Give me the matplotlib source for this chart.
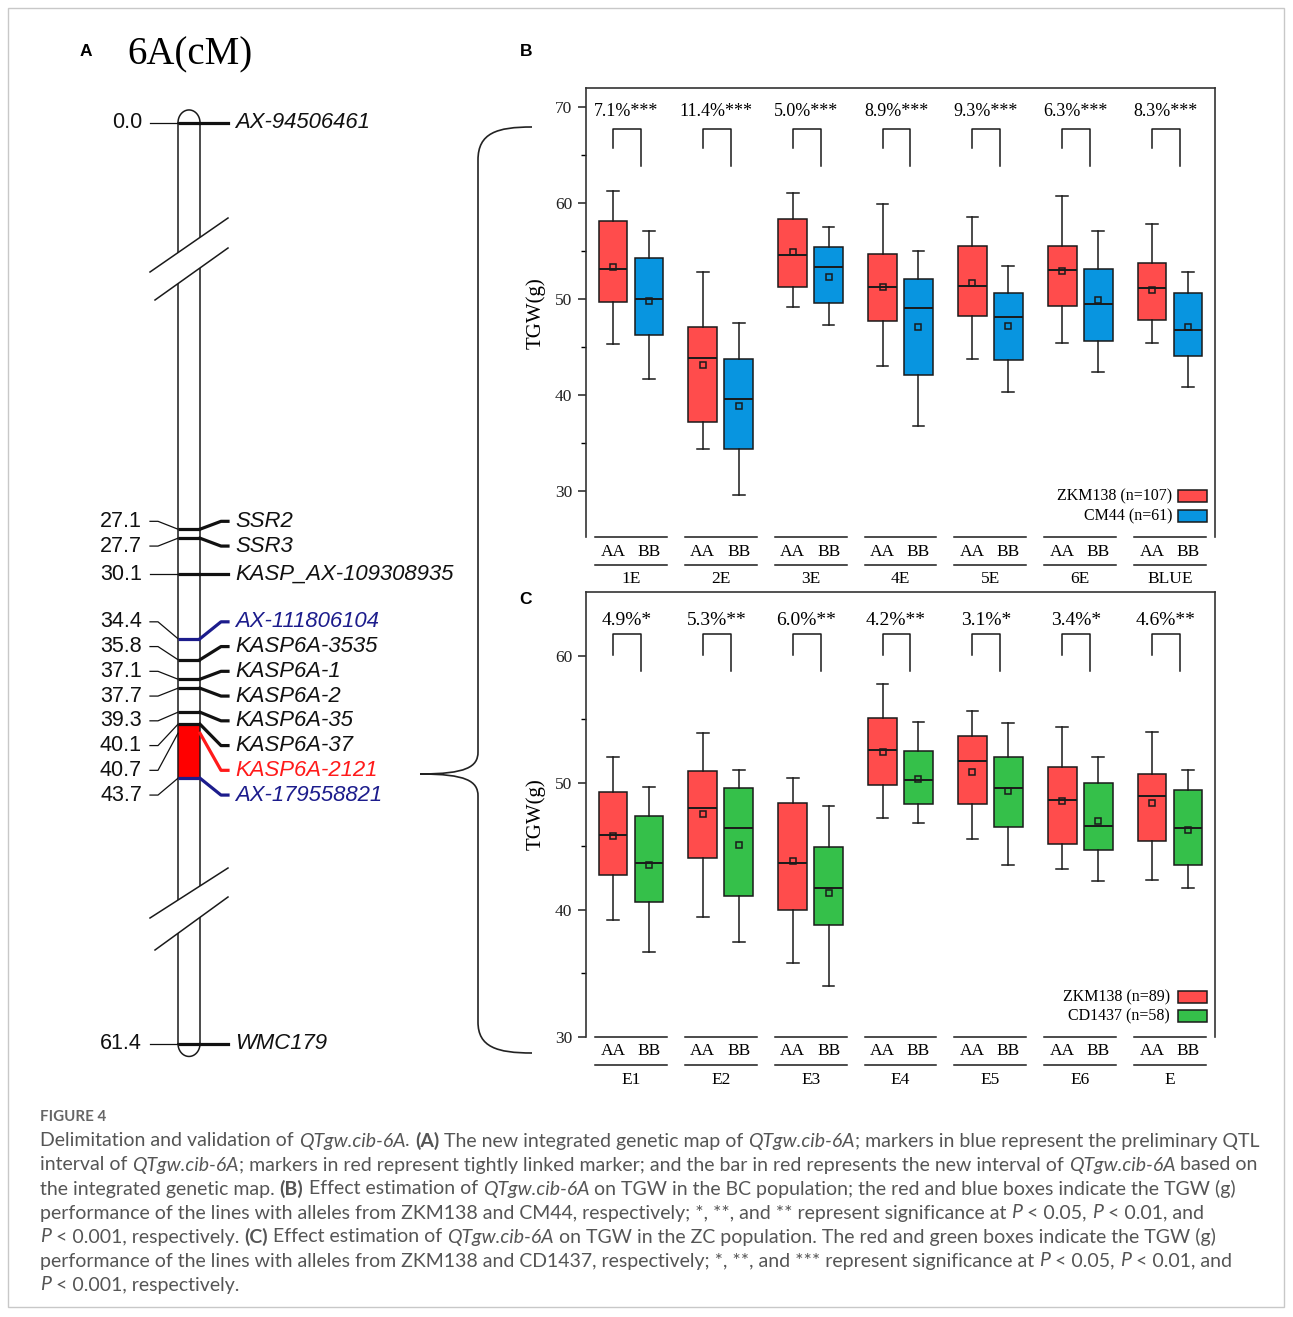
import numpy as np
import matplotlib
matplotlib.use("Agg")
from matplotlib import pyplot as plt
from matplotlib.patches import Rectangle, Polygon, PathPatch
from matplotlib.path import Path
import matplotlib.transforms as mtransforms

W, H = 1293, 1317

#%% data - panel A (genetic map, cM)
marker_names = ["AX-94506461", "SSR2", "SSR3", "KASP_AX-109308935", "AX-111806104",
                "KASP6A-3535", "KASP6A-1", "KASP6A-2", "KASP6A-35", "KASP6A-37",
                "KASP6A-2121", "AX-179558821", "WMC179"]
marker_cm = [0.0, 27.1, 27.7, 30.1, 34.4, 35.8, 37.1, 37.7, 39.3, 40.1, 40.7, 43.7, 61.4]
marker_type = ["k", "k", "k", "k", "prelim", "k", "k", "k", "k", "k", "linked", "prelim", "k"]
interval_cm = [40.1, 43.7]

#%% data - panel B (BC population)
groups_B = ["1E", "2E", "3E", "4E", "5E", "6E", "BLUE"]
pct_B = ["7.1%***", "11.4%***", "5.0%***", "8.9%***", "9.3%***", "6.3%***", "8.3%***"]
B_aa_whishi = [61.3, 52.8, 61.1, 59.9, 58.6, 60.75, 57.8]
B_aa_q3 = [58.2, 47.15, 58.4, 54.7, 55.5, 55.55, 53.75]
B_aa_med = [53.1, 43.9, 54.6, 51.3, 51.4, 53.0, 51.2]
B_aa_mean = [53.4, 43.2, 54.9, 51.25, 51.7, 52.95, 51.0]
B_aa_q1 = [49.75, 37.25, 51.3, 47.7, 48.3, 49.3, 47.8]
B_aa_whislo = [45.3, 34.4, 49.2, 43.1, 43.8, 45.45, 45.45]
B_bb_whishi = [57.1, 47.5, 57.5, 55.0, 53.5, 57.1, 52.8]
B_bb_q3 = [54.3, 43.8, 55.4, 52.1, 50.7, 53.1, 50.7]
B_bb_med = [50.0, 39.6, 53.4, 49.1, 48.15, 49.5, 46.8]
B_bb_mean = [49.85, 38.85, 52.35, 47.15, 47.25, 49.9, 47.15]
B_bb_q1 = [46.3, 34.4, 49.6, 42.15, 43.65, 45.7, 44.1]
B_bb_whislo = [41.7, 29.65, 47.3, 36.8, 40.3, 42.4, 40.9]
legend_B = ["ZKM138 (n=107)", "CM44 (n=61)"]

#%% data - panel C (ZC population)
groups_C = ["E1", "E2", "E3", "E4", "E5", "E6", "E"]
pct_C = ["4.9%*", "5.3%**", "6.0%**", "4.2%**", "3.1%*", "3.4%*", "4.6%**"]
C_aa_whishi = [52.0, 53.9, 50.4, 57.75, 55.65, 54.4, 53.95]
C_aa_q3 = [49.25, 50.9, 48.4, 55.1, 53.7, 51.25, 50.7]
C_aa_med = [45.9, 48.0, 43.7, 52.6, 51.7, 48.65, 48.95]
C_aa_mean = [45.8, 47.5, 43.85, 52.4, 50.85, 48.55, 48.4]
C_aa_q1 = [42.75, 44.1, 40.0, 49.8, 48.3, 45.15, 45.4]
C_aa_whislo = [39.2, 39.4, 35.85, 47.25, 45.6, 43.2, 42.35]
C_bb_whishi = [49.65, 51.0, 48.2, 54.8, 54.7, 52.0, 51.0]
C_bb_q3 = [47.35, 49.55, 44.95, 52.5, 52.0, 50.0, 49.45]
C_bb_med = [43.7, 46.45, 41.75, 50.2, 49.55, 46.6, 46.4]
C_bb_mean = [43.55, 45.1, 41.35, 50.3, 49.35, 47.0, 46.25]
C_bb_q1 = [40.6, 41.1, 38.8, 48.3, 46.5, 44.7, 43.5]
C_bb_whislo = [36.7, 37.5, 34.05, 46.85, 43.5, 42.25, 41.7]
legend_C = ["ZKM138 (n=89)", "CD1437 (n=58)"]

#%% style
RED = "#ff4c4c"
BLUE = "#0895e0"
GREEN = "#35c04a"
NAVY = "#1c1c8c"
MRED = "#ff1a1a"
EDGE = "#1a1a1a"
SERIF = "Liberation Serif"
SANS = "Liberation Sans"
CAP_FONT = "Lato"
CAP_COL = "#555555"

fig = plt.figure(figsize=(W / 100, H / 100), dpi=100)


def px_axes(l, t, r, b):
    return fig.add_axes([l / W, 1 - b / H, (r - l) / W, (b - t) / H])


# overlay in pixel coordinates for decorations
over = fig.add_axes([0, 0, 1, 1])
over.set_xlim(0, W)
over.set_ylim(H, 0)
over.axis("off")
over.add_patch(Rectangle((8, 8), W - 17, H - 18, fill=False, ec="#c8c8c8", lw=1))

#%% panel A : map axes, x in pixels, y in cM (15 px per cM)
Y0, PPC = 122.7, 15.0


def cm(px):
    return (px - Y0) / PPC


amap = fig.add_axes([0, 0, 1, 1])
amap.set_xlim(0, W)
amap.set_ylim(cm(H), cm(0))
amap.axis("off")
amap.patch.set_visible(False)

CL, CR = 178, 200
top, bot = marker_cm[0], marker_cm[-1]
amap.add_patch(Rectangle((CL, top), CR - CL, bot - top, fc="white", ec="none", zorder=1))
amap.add_patch(Rectangle((CL, interval_cm[0]), CR - CL, interval_cm[1] - interval_cm[0],
                         fc="#ff0000", ec="none", zorder=2))
amap.plot([CL, CL], [top, bot], color=EDGE, lw=1.1, zorder=3)
amap.plot([CR, CR], [top, bot], color=EDGE, lw=1.1, zorder=3)
t = np.linspace(0, np.pi, 40)
amap.plot((CL + CR) / 2 + 11 * np.cos(t), top - 0.85 * np.sin(t), color=EDGE, lw=1.1, zorder=3)
amap.plot((CL + CR) / 2 + 11 * np.cos(t), bot + 0.85 * np.sin(t), color=EDGE, lw=1.1, zorder=3)


def spread(vals, gap):
    # merge overlapping labels into clusters centred on the cluster's marker span
    clusters = [[v] for v in vals]
    while True:
        pos = []
        for c in clusters:
            mid = (c[0] + c[-1]) / 2
            n = len(c)
            pos.append([mid + (k - (n - 1) / 2) * gap for k in range(n)])
        merged = False
        for i in range(len(clusters) - 1):
            if pos[i + 1][0] - pos[i][-1] < gap - 1e-9:
                clusters[i] = clusters[i] + clusters[i + 1]
                del clusters[i + 1]
                merged = True
                break
        if not merged:
            return np.array([p for ps in pos for p in ps])


label_cm = spread(marker_cm, 1.65)
colmap = {"k": "#111111", "prelim": NAVY, "linked": MRED}
for name, m, ly, kind in zip(marker_names, marker_cm, label_cm, marker_type):
    c = colmap[kind]
    amap.plot([150, 158, CL], [ly, ly, m], color="#111111", lw=0.9, zorder=4)
    if kind != "linked":
        amap.plot([CL, CR], [m, m], color=c, lw=2.3, zorder=4, solid_capstyle="butt")
    amap.plot([CR, 221, 228], [m, ly, ly], color=c, lw=2.3, zorder=4)
    amap.text(142, ly, "%.1f" % m, ha="right", va="center", family=SANS, fontsize=15.5, color="#111111")
    amap.text(235, ly, name, ha="left", va="center", family=SANS, style="italic",
              fontsize=15.9, color=c)

# broken-axis marks on the chromosome
for (a, b) in [((150, 272, 228, 218), (155, 300, 228, 248)),
               ((150, 918, 228, 868), (155, 950, 228, 897))]:
    def yat(ln, x):
        return ln[1] + (ln[3] - ln[1]) * (x - ln[0]) / (ln[2] - ln[0])
    xs = [CL - 3, CR + 3]
    poly = [(xs[0], cm(yat(a, xs[0]))), (xs[1], cm(yat(a, xs[1]))),
            (xs[1], cm(yat(b, xs[1]))), (xs[0], cm(yat(b, xs[0])))]
    amap.add_patch(Polygon(poly, closed=True, fc="white", ec="none", zorder=5))
    for ln in (a, b):
        amap.plot([ln[0], ln[2]], [cm(ln[1]), cm(ln[3])], color=EDGE, lw=1.1, zorder=6)

over.text(190, 55, "6A(cM)", ha="center", va="center", family=SERIF, fontsize=28)

# brace
verts = [(532, 127), (497, 127), (478, 133), (478, 160),
         (478, 752),
         (478, 767), (466, 774), (420, 774),
         (466, 774), (478, 781), (478, 796),
         (478, 1022),
         (478, 1047), (497, 1053), (532, 1053)]
codes = [Path.MOVETO, Path.CURVE4, Path.CURVE4, Path.CURVE4,
         Path.LINETO,
         Path.CURVE4, Path.CURVE4, Path.CURVE4,
         Path.CURVE4, Path.CURVE4, Path.CURVE4,
         Path.LINETO,
         Path.CURVE4, Path.CURVE4, Path.CURVE4]
over.add_patch(PathPatch(Path(verts, codes), fill=False, ec="#222222", lw=1.2))

# panel letters
for x, y, s in [(86, 52, "A"), (526, 52, "B"), (526, 600, "C")]:
    over.text(x, y, s, ha="center", va="center", family=SANS, weight="bold", fontsize=12.5)


#%% panels B and C
def stats(whislo, q1, med, q3, whishi, mean):
    return [dict(whislo=a, q1=b, med=c, q3=d, whishi=e, mean=f, fliers=[])
            for a, b, c, d, e, f in zip(whislo, q1, med, q3, whishi, mean)]


def box_panel(ax, groups, pct, aa, bb, col_bb, ylim, majors, brk, pct_y, pct_fs, rows):
    x = np.arange(len(groups))
    for st, pos, col in [(aa, x - 0.2, RED), (bb, x + 0.2, col_bb)]:
        ax.bxp(st, positions=pos, widths=0.32, capwidths=0.13, patch_artist=True,
               showmeans=True, showfliers=False, manage_ticks=False,
               boxprops=dict(facecolor=col, edgecolor=EDGE, lw=1.1),
               medianprops=dict(color=EDGE, lw=1.4),
               whiskerprops=dict(color=EDGE, lw=1.1),
               capprops=dict(color=EDGE, lw=1.1),
               meanprops=dict(marker="s", markersize=4.5, markerfacecolor="none",
                              markeredgecolor=EDGE, markeredgewidth=1.1))
    bl, bt, br = brk
    for i in x:
        ax.plot([i - 0.2, i - 0.2, i + 0.11, i + 0.11], [bl, bt, bt, br], color=EDGE, lw=1.1)
        ax.text(i - 0.05, pct_y, pct[i], ha="center", va="center", family=SERIF, fontsize=pct_fs)
    ax.set_xlim(-0.5, len(groups) - 0.5)
    ax.set_ylim(*ylim)
    ax.set_yticks(majors)
    ax.set_yticks(np.arange(majors[0] + 5, ylim[1], 10), minor=True)
    ax.set_xticks([])
    ax.spines["bottom"].set_visible(False)
    for s in ["left", "right", "top"]:
        ax.spines[s].set_linewidth(1.2)
        ax.spines[s].set_color("#333333")
    ax.tick_params(axis="y", which="major", direction="out", length=6, width=1.1, pad=4,
                   labelsize=12.5, colors="#222222")
    ax.tick_params(axis="y", which="minor", direction="out", length=3.5, width=1.0)
    for lab in ax.get_yticklabels():
        lab.set_family(SERIF)
    # allele / environment rows under the axes
    hpx = ax.get_position().height * H
    tr = mtransforms.blended_transform_factory(ax.transData, ax.transAxes)
    y_top, y_ab, y_low, y_grp = [-r / hpx for r in rows]
    for i in x:
        for yy in (y_top, y_low):
            ax.plot([i - 0.4, i + 0.4], [yy, yy], color=EDGE, lw=1.1, transform=tr, clip_on=False)
        ax.text(i - 0.2, y_ab, "AA", transform=tr, ha="center", va="center", family=SERIF, fontsize=12.5)
        ax.text(i + 0.2, y_ab, "BB", transform=tr, ha="center", va="center", family=SERIF, fontsize=12.5)
        ax.text(i, y_grp, groups[i], transform=tr, ha="center", va="center", family=SERIF, fontsize=12.5)


axB = px_axes(586, 88, 1215, 537)
box_panel(axB, groups_B, pct_B,
          stats(B_aa_whislo, B_aa_q1, B_aa_med, B_aa_q3, B_aa_whishi, B_aa_mean),
          stats(B_bb_whislo, B_bb_q1, B_bb_med, B_bb_q3, B_bb_whishi, B_bb_mean),
          BLUE, (25.24, 72.0), [30, 40, 50, 60, 70], (65.7, 67.7, 63.9), 69.55, 13.0,
          (0, 15, 28.5, 42))

axC = px_axes(586, 592, 1215, 1037)
box_panel(axC, groups_C, pct_C,
          stats(C_aa_whislo, C_aa_q1, C_aa_med, C_aa_q3, C_aa_whishi, C_aa_mean),
          stats(C_bb_whislo, C_bb_q1, C_bb_med, C_bb_q3, C_bb_whishi, C_bb_mean),
          GREEN, (30, 65), [30, 40, 50, 60], (60.06, 61.7, 58.8), 62.75, 14.0,
          (0, 14, 28, 43))

over.text(536, 313, "TGW(g)", rotation=90, ha="center", va="center", family=SERIF, fontsize=15)
over.text(536, 814, "TGW(g)", rotation=90, ha="center", va="center", family=SERIF, fontsize=15)

# legends (pixel layout)
leg = fig.add_axes([0, 0, 1, 1])
leg.set_xlim(0, W)
leg.set_ylim(H, 0)
leg.axis("off")
for labels, cols, ys, tx in [(legend_B, [RED, BLUE], [496, 516], 1172),
                             (legend_C, [RED, GREEN], [997, 1016], 1170)]:
    for lab, c, yy in zip(labels, cols, ys):
        leg.add_patch(Rectangle((1178, yy - 6), 29, 12, fc=c, ec=EDGE, lw=1.1))
        leg.text(tx, yy, lab, ha="right", va="center", family=SERIF, fontsize=11.5)

#%% caption
caption = [
    [("Delimitation and validation of ", ""), ("QTgw.cib-6A", "i"), (". ", ""), ("(A)", "b"),
     (" The new integrated genetic map of ", ""), ("QTgw.cib-6A", "i"),
     ("; markers in blue represent the preliminary QTL", "")],
    [("interval of ", ""), ("QTgw.cib-6A", "i"),
     ("; markers in red represent tightly linked marker; and the bar in red represents the new interval of ", ""),
     ("QTgw.cib-6A", "i"), (" based on", "")],
    [("the integrated genetic map. ", ""), ("(B)", "b"), (" Effect estimation of ", ""), ("QTgw.cib-6A", "i"),
     (" on TGW in the BC population; the red and blue boxes indicate the TGW (g)", "")],
    [("performance of the lines with alleles from ZKM138 and CM44, respectively; *, **, and ** represent significance at ", ""),
     ("P", "i"), (" < 0.05, ", ""), ("P", "i"), (" < 0.01, and", "")],
    [("P", "i"), (" < 0.001, respectively. ", ""), ("(C)", "b"), (" Effect estimation of ", ""), ("QTgw.cib-6A", "i"),
     (" on TGW in the ZC population. The red and green boxes indicate the TGW (g)", "")],
    [("performance of the lines with alleles from ZKM138 and CD1437, respectively; *, **, and *** represent significance at ", ""),
     ("P", "i"), (" < 0.05, ", ""), ("P", "i"), (" < 0.01, and", "")],
    [("P", "i"), (" < 0.001, respectively.", "")],
]

renderer = fig.canvas.get_renderer()


def seg_kw(style, fs):
    kw = dict(fontsize=fs, family=CAP_FONT, color=CAP_COL, va="center", ha="left")
    if style == "i":
        kw["style"] = "italic"
    if style == "b":
        kw["weight"] = "bold"
    return kw


def seg_width(s, style, fs):
    a = over.text(0, 0, "|" + s + "|", **seg_kw(style, fs))
    b = over.text(0, 0, "||", **seg_kw(style, fs))
    w = a.get_window_extent(renderer).width - b.get_window_extent(renderer).width
    a.remove()
    b.remove()
    return w


base = 12.0
w1 = sum(seg_width(s, st, base) for s, st in caption[0])
fs = base * 1212.0 / w1

over.text(40, 1117, "FIGURE 4", family=CAP_FONT, fontsize=fs * 0.78, color="#666666",
          weight="bold", va="center", ha="left")
for k, line in enumerate(caption):
    x = 40
    y = 1141 + 24 * k
    for s, st in line:
        over.text(x, y, s, **seg_kw(st, fs))
        x += seg_width(s, st, fs)

fig.savefig("out.png", dpi=100)
